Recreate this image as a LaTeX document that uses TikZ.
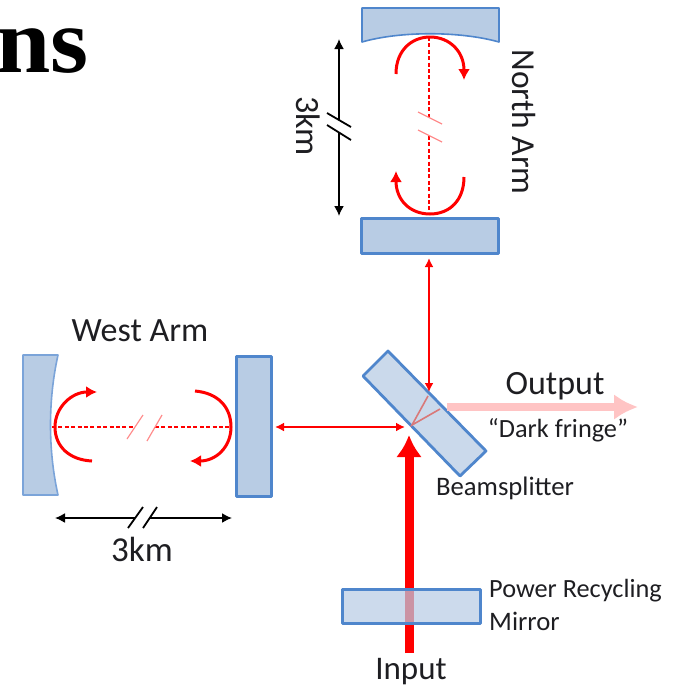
\documentclass[tikz,border=0pt]{standalone}
\usepackage{fontspec}
\setmainfont{Carlito}
\newfontfamily\headfont{Liberation Serif}
\usetikzlibrary{arrows.meta}
\definecolor{mirfill}{HTML}{B8CCE4}
\definecolor{mirline}{HTML}{4F86CC}
\definecolor{txt}{HTML}{1E1E22}
\definecolor{paleR}{HTML}{FFC4C4}
\tikzset{
 mirror/.style={draw=mirline,line width=2.8pt,fill=mirfill,line join=round},
 thinmirror/.style={draw=mirline!75,line width=1.6pt,fill=mirfill,line join=round},
 rect/.style={mirror,rectangle,inner sep=0pt,minimum width=#1},
 lbl/.style={text=txt,font=\fontsize{#1}{#1}\selectfont,inner sep=0pt},
 beam/.style={draw=red,line width=2pt,{Latex[length=9pt,width=9pt]}-{Latex[length=9pt,width=9pt]}},
 circ/.style={draw=red,line width=3pt,-{Latex[length=11pt,width=12pt]}},
 cavity/.style={draw=red,line width=1.2pt,dash pattern=on 4pt off 2.4pt},
 slashR/.style={draw=red!45,line width=1.2pt},
 dim/.style={draw=black,line width=1.6pt,{Latex[length=10pt,width=10pt]}-{Latex[length=10pt,width=10pt]}},
 slashK/.style={draw=black,line width=1.8pt},
}
\begin{document}
\begin{tikzpicture}[x=1pt,y=-1pt]
\useasboundingbox (0,0) rectangle (675,689);
% heading, clipped by the page edge
\begin{scope}
\clip (0,0) rectangle (675,689);
\node[anchor=base east,inner sep=0pt,font=\headfont\bfseries\fontsize{93}{93}\selectfont,text=black,xscale=1.05] (head) at (89,72) {ns};
\end{scope}
% north arm
\draw[thinmirror,draw=mirline] (362,8) -- (499,8) -- (499,42) .. controls (460,31) and (400,31) .. (362,42) -- cycle;
\node[rect=137pt,minimum height=35pt] (northend) at (430,236) {};
% west arm
\draw[thinmirror] (23,355) -- (58,355) .. controls (48,400) and (48,450) .. (58,495) -- (23,495) -- cycle;
\node[rect=35pt,minimum height=140pt] (westend) at (254,426.5) {};
% beamsplitter
\draw[mirror,fill=mirfill!75] (388,351) coordinate (bsA) -- (486,451) coordinate (bsB) -- (460,476) coordinate (bsC) -- (363,376) coordinate (bsD) -- cycle;
% cavity lines
\coordinate (ntop) at (429,37); \coordinate (nbot) at (429,214);
\coordinate (nbrkA) at (429,118); \coordinate (nbrkB) at (429,136);
\draw[cavity] (ntop) -- (nbrkA);
\draw[cavity] (nbrkB) -- (nbot);
\draw[slashR] (418,112) -- (442,124);
\draw[slashR] (418,130) -- (442,142);
\coordinate (wl) at (52,427); \coordinate (wr) at (231,427);
\coordinate (wbrkA) at (135,427); \coordinate (wbrkB) at (155,427);
\draw[cavity] (wl) -- (wbrkA);
\draw[cavity] (wbrkB) -- (wr);
\draw[slashR] (127,439) -- (143,415);
\draw[slashR] (147,441) -- (162,415);
% circulating arcs
\draw[circ] (396,74) .. controls (396,50) and (412,37) .. (430,37) .. controls (450,37) and (464,52) .. (464,80);
\draw[circ] (464,177) .. controls (464,200) and (450,214) .. (430,214) .. controls (410,214) and (396,200) .. (396,171);
\draw[circ] (92,461) .. controls (70,460) and (55,447) .. (55,427) .. controls (55,407) and (72,392) .. (97,392);
\draw[circ] (195,391) .. controls (218,393) and (231,407) .. (231,427) .. controls (231,447) and (216,461) .. (190,461);
% beams
\coordinate (bsN) at (429,392);
\coordinate (bsW) at (405,427);
\coordinate (bsIn) at (409,435);
\coordinate (bsOut) at (447,407);
\coordinate (outTip) at (638,407);
\coordinate (inStart) at (409,653);
\draw[beam] (429,258) -- (bsN);
\draw[beam] (275,427) -- (bsW);
\draw[paleR,line width=8pt,-{Latex[length=24pt,width=26pt]}] (bsOut) -- (outTip);
\draw[paleR!60!red!70!gray,line width=1.6pt] (428,396) -- (412,425) -- (440,409);
\draw[red,line width=9pt,-{Latex[length=22pt,width=26pt]}] (inStart) -- (bsIn);
% power recycling mirror over the beam
\node[mirror,rectangle,inner sep=0pt,minimum width=138pt,minimum height=34pt,fill opacity=.72,fill=mirfill] (prm) at (411.5,606.5) {};
% dimension arrows
\coordinate (ndA) at (339,39); \coordinate (ndB) at (339,216);
\draw[dim] (ndA) -- (ndB);
\fill[white] (327,113) -- (351,127) -- (351,140) -- (327,125) -- cycle;
\draw[slashK] (327,113) -- (351,127);
\draw[slashK] (327,125) -- (351,140);
\coordinate (wdA) at (55,518); \coordinate (wdB) at (232,518);
\draw[dim] (wdA) -- (wdB);
\fill[white] (128,528) -- (143,507) -- (157,507) -- (143,528) -- cycle;
\draw[slashK] (128,528) -- (143,507);
\draw[slashK] (143,528) -- (157,507);
% labels
\node[lbl=34,rotate=-90] (nk) at (308,126) {3km};
\node[lbl=33.5,rotate=-90] (na) at (524,122) {North Arm};
\node[lbl=34] (wa) at (140,331) {West Arm};
\node[lbl=35] (wk) at (142,549) {3km};
\node[lbl=34] (ol) at (555,386) {Output};
\node[lbl=26.3] (df) at (558,430) {“Dark fringe”};
\node[lbl=26.7] (bl) at (505,488) {Beamsplitter};
\node[lbl=26.3,anchor=west] (pr) at (489,591) {Power Recycling};
\node[lbl=26.7,anchor=west] (mi) at (489,621) {Mirror};
\node[lbl=33] (il) at (411,672) {Input};
\end{tikzpicture}
\end{document}
